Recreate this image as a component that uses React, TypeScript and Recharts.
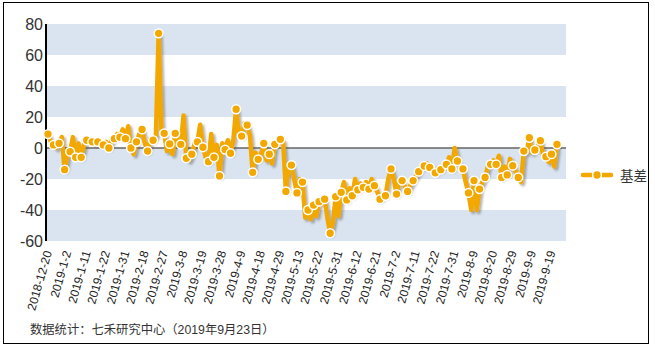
import React from 'react';
import { LineChart, Line, XAxis, YAxis, CartesianGrid, ReferenceLine, Legend } from 'recharts';

const tickLabels = [
  '2018-12-20', '2019-1-2', '2019-1-11', '2019-1-22', '2019-1-31', '2019-2-18', '2019-2-27',
  '2019-3-8', '2019-3-19', '2019-3-28', '2019-4-9', '2019-4-18', '2019-4-29', '2019-5-13',
  '2019-5-22', '2019-5-31', '2019-6-12', '2019-6-21', '2019-7-2', '2019-7-11', '2019-7-22',
  '2019-7-31', '2019-8-9', '2019-8-20', '2019-8-29', '2019-9-9', '2019-9-19',
];

const seriesName = '基差';

const basisValues = [
  9, 4, 2, 0, 3, 7, -14, -5, -2.4, 7,
  -6, 3, -6, 2, 5, 5, 4, 3, 4, 3,
  2, 4, 0, 5, 6, 9, 7, 12, 6, 14,
  0, -4, 4, 9, 12, 3, -2, 6, 5, 8,
  74, 12, 9.5, -2, 2.6, -4, 9.5, 4, 2.4, 21,
  -6.6, -8, -4, 3, 4, 15, 0.5, -6, -8.8, 9,
  -6, 2, -18, 3, -1, 5, -3.4, 5, 25, 10,
  7.7, 16, 14.8, 8, -15.7, -3, -7.3, -4, 3, -8,
  -4, -10, 2.4, 4, 5.6, 4, -28, -12, -11, -20,
  -29, -20, -22, -45, -40, -46, -36.8, -44, -34.6, -35,
  -33, -45, -55, -48, -31.4, -44, -28.6, -22, -33.5, -26,
  -30.8, -20, -27, -23, -25.4, -22, -26.5, -20, -24.3, -28,
  -33, -31, -30.8, -20, -13.5, -20, -29.7, -22, -21, -25,
  -28, -24, -21, -18, -15.3, -12, -11.6, -10, -12.5, -14,
  -16, -13, -14, -11, -10.5, -6, -13.5, 0, -8.4, -12,
  -13.5, -22, -29, -40, -21, -40, -26.5, -22, -19, -12,
  -10.5, -8, -10.5, -5, -19, -12, -17.4, -7, -11.4, -15,
  -19, -22, -2, -3, 6.6, -3, -1.3, 1, 4.7, -5,
  -5.6, -9, -4, -12, 2.4,
];

const yTicks = [-60, -40, -20, 0, 20, 40, 60, 80];

const data = basisValues.map((v, i) => ({ i, basis: v }));

const ORANGE = '#F3A800';
const FONT = '"Liberation Sans", Arial, "Noto Sans CJK SC", sans-serif';

const XTick = (props: any) => {
  const { x, y, payload } = props;
  const idx = Number(payload.value);
  const label = idx % 7 === 0 ? tickLabels[idx / 7] : '';
  if (!label) return <g />;
  const ax = x;
  const ay = y + 8;
  return (
    <text
      x={ax}
      y={ay}
      transform={`rotate(-74 ${ax} ${ay})`}
      textAnchor="end"
      dy="0.35em"
      fontSize={12}
      fill="#222"
      fontFamily={FONT}
    >
      {label}
    </text>
  );
};

const renderDot = (props: any) => {
  const { cx, cy, index } = props;
  if (index % 2 !== 0) return <g key={`d${index}`} />;
  return <circle key={`d${index}`} cx={cx} cy={cy} r={4.4} fill={ORANGE} stroke="#fff" strokeWidth={1.5} />;
};

const LegendContent = () => (
  <div style={{ display: 'flex', alignItems: 'center', fontFamily: FONT }}>
    <svg width={34} height={12}>
      <line x1={3} x2={31} y1={6} y2={6} stroke={ORANGE} strokeWidth={4.5} strokeLinecap="round" />
      <circle cx={17} cy={6} r={4.4} fill={ORANGE} stroke="#fff" strokeWidth={1.5} />
    </svg>
    <span style={{ marginLeft: 6, fontSize: 13.5, color: '#333' }}>{seriesName}</span>
  </div>
);

export default function App() {
  return (
    <div style={{ position: 'absolute', left: 0, top: 0, width: 655, height: 347, background: '#fff' }}>
      <svg
        width={655}
        height={347}
        style={{ position: 'absolute', left: 0, top: 0 }}
      >
        <rect x={3.5} y={2.5} width={645} height={341} fill="none" stroke="#000" strokeWidth={1} />
      </svg>
      <div style={{ position: 'absolute', left: 0, top: 0 }}>
        <LineChart
          width={655}
          height={347}
          data={data}
          margin={{ top: 24, right: 89, bottom: 26, left: 0 }}
        >
          <defs>
            <filter id="lineShadow" x="-10%" y="-10%" width="130%" height="130%">
              <feDropShadow dx="2" dy="2" stdDeviation="1.2" floodColor="#555" floodOpacity="0.45" />
            </filter>
          </defs>
          <CartesianGrid
            horizontal
            vertical={false}
            stroke="none"
            horizontalFill={['#D9E4F0', '#FFFFFF']}
          />
          <XAxis
            dataKey="i"
            type="category"
            interval={6}
            tick={<XTick />}
            tickLine={false}
            axisLine={false}
            tickSize={0}
            height={80}
            padding={{ left: 2, right: 9 }}
          />
          <YAxis
            domain={[-60, 80]}
            ticks={yTicks}
            width={46}
            tickLine={false}
            tickSize={0}
            tickMargin={3}
            axisLine={{ stroke: '#000', strokeWidth: 2 }}
            tick={{ fontSize: 16, fill: '#333', fontFamily: FONT }}
            interval={0}
          />
          <ReferenceLine y={0} stroke="#666" strokeWidth={1.5} />
          <Line
            type="linear"
            dataKey="basis"
            name={seriesName}
            stroke={ORANGE}
            strokeWidth={4.5}
            strokeLinejoin="round"
            filter="url(#lineShadow)"
            dot={renderDot}
            activeDot={false}
            isAnimationActive={false}
          />
          <Legend
            layout="vertical"
            align="center"
            verticalAlign="middle"
            content={<LegendContent />}
            wrapperStyle={{ position: 'absolute', left: 580, top: 165, width: 75 }}
          />
        </LineChart>
      </div>
      <div
        style={{
          position: 'absolute',
          left: 30,
          top: 320,
          fontSize: 12.3,
          color: '#333',
          fontFamily: FONT,
          whiteSpace: 'nowrap',
        }}
      >
        数据统计：七禾研究中心（2019年9月23日）
      </div>
    </div>
  );
}
